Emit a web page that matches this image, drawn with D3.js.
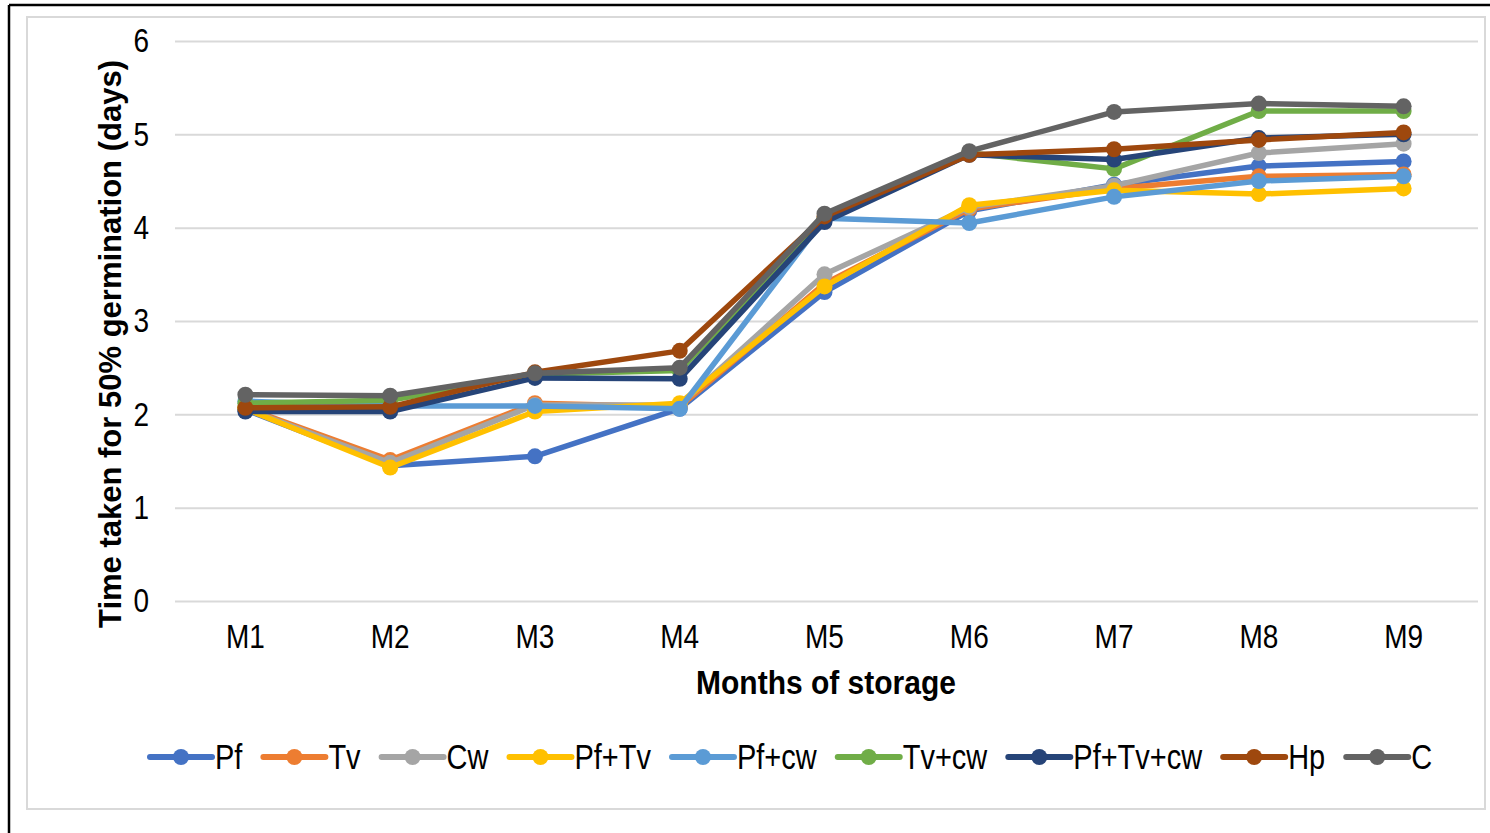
<!DOCTYPE html>
<html><head><meta charset="utf-8">
<script src="https://cdn.jsdelivr.net/npm/d3@7"></script>
<style>html,body{margin:0;padding:0;background:#fff;}svg{display:block;font-family:"Liberation Sans",Arial,sans-serif;}</style>
</head><body>
<svg id="chart" width="1490" height="833"></svg>
<script>
const months = ["M1","M2","M3","M4","M5","M6","M7","M8","M9"];
const seriesNames = ["Pf","Tv","Cw","Pf+Tv","Pf+cw","Tv+cw","Pf+Tv+cw","Hp","C"];
const seriesColors = ["#4472C4","#ED7D31","#A5A5A5","#FFC000","#5B9BD5","#70AD47","#264478","#9E480E","#636363"];
const Pf      = [2.05, 1.45, 1.55, 2.06, 3.31, 4.18, 4.46, 4.66, 4.71];
const Tv      = [2.07, 1.51, 2.12, 2.08, 3.40, 4.20, 4.42, 4.55, 4.57];
const Cw      = [2.06, 1.48, 2.10, 2.10, 3.50, 4.22, 4.45, 4.80, 4.90];
const PfTv    = [2.06, 1.43, 2.03, 2.12, 3.37, 4.24, 4.40, 4.36, 4.42];
const Pfcw    = [2.14, 2.09, 2.09, 2.06, 4.10, 4.05, 4.33, 4.50, 4.55];
const Tvcw    = [2.12, 2.15, 2.43, 2.47, 4.10, 4.80, 4.63, 5.25, 5.25];
const PfTvcw  = [2.03, 2.03, 2.39, 2.38, 4.06, 4.78, 4.73, 4.96, 5.00];
const Hp      = [2.07, 2.08, 2.45, 2.68, 4.12, 4.78, 4.84, 4.94, 5.02];
const C       = [2.21, 2.20, 2.44, 2.50, 4.15, 4.82, 5.24, 5.33, 5.30];
const seriesValues = [Pf, Tv, Cw, PfTv, Pfcw, Tvcw, PfTvcw, Hp, C];
const yTicks = [0,1,2,3,4,5,6];
const yTitle = "Time taken for 50% germination (days)";
const xTitle = "Months of storage";

const svg = d3.select("#chart");
// outer frame
svg.append("line").attr("x1",9).attr("x2",1490).attr("y1",5).attr("y2",5).attr("stroke","#000").attr("stroke-width",2.5);
svg.append("line").attr("x1",9).attr("x2",9).attr("y1",5).attr("y2",833).attr("stroke","#000").attr("stroke-width",2.5);
svg.append("rect").attr("x",27).attr("y",17).attr("width",1458).attr("height",792)
  .attr("fill","none").attr("stroke","#d9d9d9").attr("stroke-width",2);

const x = d3.scaleBand().domain(months).range([175,1478]);
const y = d3.scaleLinear().domain([0,6]).range([601,41]);
const cx = m => x(m) + x.bandwidth()/2 - 2;

// stretch text vertically about its own centre
function stretch(sel, k){
  sel.each(function(){
    const b = this.getBBox();
    const c = b.y + b.height/2;
    d3.select(this).attr("transform", `translate(0,${c*(1-k)}) scale(1,${k})`);
  });
}

// gridlines
const yAxis = d3.axisLeft(y).tickValues(yTicks).tickSize(-(1478-175)).tickPadding(26).tickFormat(d3.format("d"));
const gy = svg.append("g").attr("transform","translate(175,0)").call(yAxis);
gy.select(".domain").remove();
gy.selectAll(".tick line").attr("stroke","#d9d9d9").attr("stroke-width",2);
gy.selectAll(".tick text").attr("font-size",28).attr("fill","#000").attr("font-family","Liberation Sans, Arial, sans-serif");
stretch(gy.selectAll(".tick text"),1.18);

// x axis labels
const xAxis = d3.axisBottom(x).tickSize(0).tickPadding(25);
const gx = svg.append("g").attr("transform","translate(-2,601)").call(xAxis);
gx.select(".domain").remove();
gx.selectAll(".tick text").attr("font-size",28).attr("fill","#000").attr("font-family","Liberation Sans, Arial, sans-serif");
stretch(gx.selectAll(".tick text"),1.18);

// titles
const xt = svg.append("text").attr("x",826).attr("y",693).attr("text-anchor","middle")
  .attr("font-size",30).attr("font-weight","bold").text(xTitle);
stretch(xt,1.1);
svg.append("text").attr("transform","translate(121,344) rotate(-90)").attr("text-anchor","middle")
  .attr("font-size",31).attr("font-weight","bold").text(yTitle);

// series
const line = d3.line().x((d,i)=>cx(months[i])).y(d=>y(d));
seriesValues.forEach((vals,si)=>{
  const g = svg.append("g");
  g.append("path").datum(vals).attr("d",line).attr("fill","none")
    .attr("stroke",seriesColors[si]).attr("stroke-width",5.5).attr("stroke-linejoin","round").attr("stroke-linecap","round");
  g.selectAll("circle").data(vals).join("circle")
    .attr("cx",(d,i)=>cx(months[i])).attr("cy",d=>y(d)).attr("r",8).attr("fill",seriesColors[si]);
});

// legend
const lg = svg.append("g");
let lx = 150;
const ly = 757;
seriesNames.forEach((name,i)=>{
  const it = lg.append("g");
  it.append("line").attr("x1",lx).attr("x2",lx+62).attr("y1",ly).attr("y2",ly)
    .attr("stroke",seriesColors[i]).attr("stroke-width",6).attr("stroke-linecap","round");
  it.append("circle").attr("cx",lx+31).attr("cy",ly).attr("r",8).attr("fill",seriesColors[i]);
  const t = it.append("text").attr("x",lx+65).attr("y",ly+10).attr("font-size",29).attr("fill","#000").text(name);
  stretch(t,1.18);
  lx = lx + 65 + t.node().getComputedTextLength() + 21;
});
</script>
</body></html>
